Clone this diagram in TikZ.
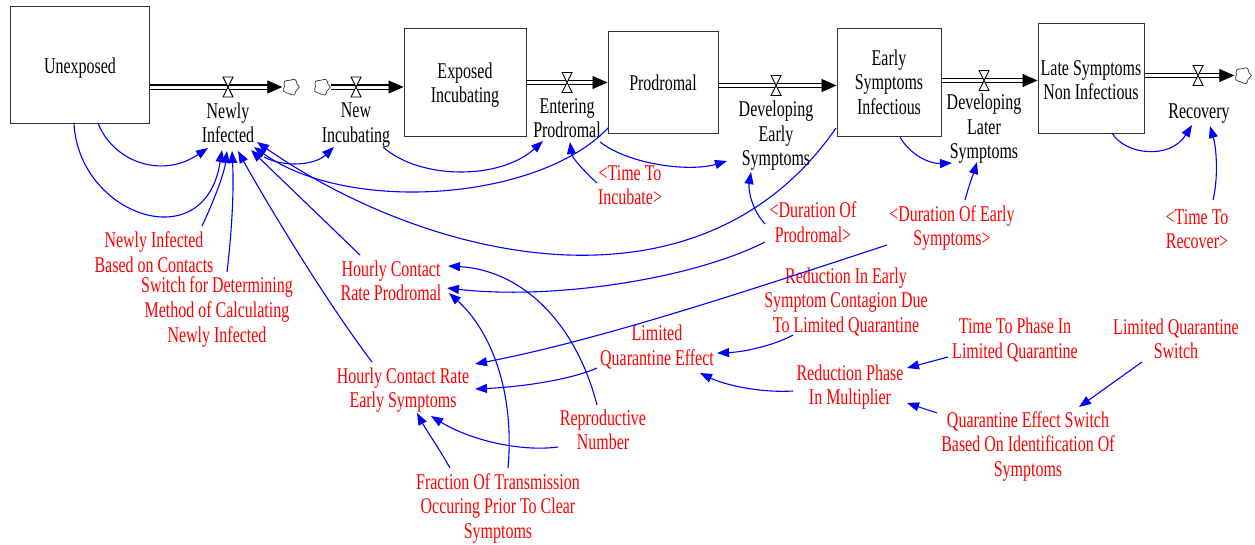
\documentclass[tikz,border=0pt]{standalone}
\usepackage{fontspec}
\setmainfont{Liberation Serif}[FakeStretch=0.71]
\usetikzlibrary{arrows.meta,calc}

\tikzset{
  stock/.style={draw=black!80, line width=1pt, align=center, inner sep=2pt},
  stocklbl/.style={align=center, inner sep=0pt},
  flowlbl/.style={align=center, inner sep=0pt, text=black},
  aux/.style={align=center, inner sep=0pt, text=red},
  pipe/.style={draw=black, line width=1.2pt, double=white, double distance=3pt, shorten >=14pt},
  pipetip/.style={draw=black, line width=0.6pt, -{Triangle[length=15pt,width=13pt]}},
  sink/.style={minimum width=17pt, minimum height=17pt, inner sep=0pt},
  link/.style={draw=blue, line width=1.1pt, -{Triangle[length=12pt,width=9pt]}},
  valve/.pic={\draw[draw=black, fill=white, line width=0.9pt]
               (-5,-10) -- (5,-10) -- (-5,10) -- (5,10) -- cycle;},
  puff/.pic={\draw[draw=black!80, line width=0.7pt, fill=white]
               plot[smooth cycle, tension=0.8] coordinates {(0:8.3) (35:6.3) (70:8.5) (110:6.8)
               (150:8.4) (185:6.6) (220:8.5) (260:6.8) (300:8.5) (335:6.6)};}
}

% double-line material flow with a solid head at its end
\newcommand\flowpipe[2]{%
  \draw[pipe] (#1) -- (#2);
  \draw[pipetip] ($(#2)!15pt!(#1)$) -- (#2);}

\begin{document}
\begin{tikzpicture}[x=1pt, y=-1pt, font=\fontsize{22.5}{24.5}\selectfont]
\useasboundingbox (0,0) rectangle (1255,544);

% ---------- stocks ----------
\node[stock, minimum width=139pt, minimum height=117pt,
      label={[stocklbl, yshift=-4pt]center:Unexposed}] (U) at (80,64.5) {};
\node[stock, minimum width=122pt, minimum height=108pt,
      label={[stocklbl, yshift=-3pt]center:{Exposed\\Incubating}}] (EI) at (465,82) {};
\node[stock, minimum width=110pt, minimum height=102pt] (PR) at (663,82.5) {Prodromal};
\node[stock, minimum width=104pt, minimum height=108pt] (ES) at (889,82)   {Early\\Symptoms\\Infectious};
\node[stock, minimum width=106pt, minimum height=110pt,
      label={[stocklbl, yshift=-2pt]center:{Late Symptoms\\Non Infectious}}] (LS) at (1091,78) {};

% ---------- sources and sinks ----------
\node[sink] (c1) at (291,87) {};
\node[sink] (c2) at (322,87) {};
\node[sink] (c3) at (1243,75.5) {};

% ---------- valve positions ----------
\coordinate (v1) at (228,87);
\coordinate (v2) at (356,87);
\coordinate (v3) at (567,82.5);
\coordinate (v4) at (776,85.5);
\coordinate (v5) at (984,80.5);
\coordinate (v6) at (1198,75.5);

% ---------- flows ----------
\flowpipe{U.east |- v1}{c1.west}
\flowpipe{c2.east}{EI.west |- v2}
\flowpipe{EI.east |- v3}{PR.west |- v3}
\flowpipe{PR.east |- v4}{ES.west |- v4}
\flowpipe{ES.east |- v5}{LS.west |- v5}
\flowpipe{LS.east |- v6}{c3.west}
\foreach \v in {v1,v2,v3,v4,v5,v6} \pic at (\v) {valve};
\foreach \c in {c1,c2,c3} \pic at (\c) {puff};

% ---------- flow names ----------
\node[flowlbl] (NI)  at (228,123)  {Newly\\Infected};
\node[flowlbl] (NIc) at (356,125)  {New\\Incubating};
\node[flowlbl] (EP)  at (567,118)  {Entering\\Prodromal};
\node[flowlbl] (DE)  at (776,136)  {Developing\\Early\\Symptoms};
\node[flowlbl] (DL)  at (984,129)  {Developing\\Later\\Symptoms};
\node[flowlbl] (RC)  at (1199,114) {Recovery};

% ---------- auxiliaries ----------
\node[aux] (NIBC) at (154,252) {Newly Infected\\Based on Contacts};
\node[aux] (SW)   at (217,312) {Switch for Determining\\Method of Calculating\\Newly Infected};
\node[aux] (HCRP) at (391,281) {Hourly Contact\\Rate Prodromal};
\node[aux] (HCRE) at (403,390) {Hourly Contact Rate\\Early Symptoms};
\node[aux] (RN)   at (603,430) {Reproductive\\Number};
\node[aux] (FT)   at (498,508) {Fraction Of Transmission\\Occuring Prior To Clear\\Symptoms};
\node[aux] (LQE)  at (657,347) {Limited\\Quarantine Effect};
\node[aux] (TTI)  at (630,185) {<Time To\\Incubate>};
\node[aux] (DOP)  at (813,222) {<Duration Of\\Prodromal>};
\node[aux] (DOE)  at (952,228) {<Duration Of Early\\Symptoms>};
\node[aux] (TTR)  at (1197,229) {<Time To\\Recover>};
\node[aux] (RIE)  at (846,302) {Reduction In Early\\Symptom Contagion Due\\To Limited Quarantine};
\node[aux] (TTP)  at (1015,340) {Time To Phase In\\Limited Quarantine};
\node[aux] (LQS)  at (1176,339) {Limited Quarantine\\Switch};
\node[aux] (RPM)  at (850,387) {Reduction Phase\\In Multiplier};
\node[aux] (QES)  at (1028,446) {Quarantine Effect Switch\\Based On Identification Of\\Symptoms};

% ---------- causal links ----------
% into Newly Infected
\draw[link] ($(U)+(18,58.5)$) .. controls (112,160) and (160,180) .. ($(NI)+(-20,25)$);
\draw[link] ($(U)+(-6,58.5)$) .. controls (78,215) and (205,260) .. ($(NI)+(-6,27)$);
\draw[link] ($(NIBC)+(48,-26)$) .. controls (212,205) and (224,175) .. ($(NI)+(-1,28)$);
\draw[link] ($(SW)+(10,-40)$) .. controls (232,230) and (234,190) .. ($(NI)+(4,28)$);
\draw[link] ($(HCRE)+(-31,-28)$) .. controls (325,300) and (265,200) .. ($(NI)+(10,28)$);
\draw[link] ($(HCRP)+(-31,-26)$) -- ($(NI)+(23,27)$);
\draw[link] ($(PR)+(-55,45.5)$) .. controls (540,200) and (350,215) .. ($(NI)+(26,24)$);
\draw[link] ($(ES)+(-53,46)$) .. controls (700,325) and (430,262) .. ($(NI)+(29,19)$);

% along the chain of flows
\draw[link] ($(NI)+(36,34)$) .. controls (285,168) and (315,165) .. ($(NIc)+(-22,22)$);
\draw[link] ($(NIc)+(27,22)$) .. controls (420,180) and (500,180) .. ($(EP)+(-24,23)$);
\draw[link] ($(TTI)+(-33,-2)$) .. controls (585,172) and (572,158) .. ($(EP)+(3,24)$);
\draw[link] ($(PR)+(-63,59.5)$) .. controls (630,165) and (690,172) .. ($(DE)+(-49,25)$);
\draw[link] ($(DOP)+(-48,2)$) .. controls (752,210) and (748,190) .. ($(DE)+(-25,36)$);
\draw[link] ($(ES)+(11,55)$) .. controls (910,155) and (930,164) .. ($(DL)+(-32,34)$);
\draw[link] ($(DOE)+(13,-28)$) .. controls (969,185) and (974,172) .. ($(DL)+(-7,33)$);
\draw[link] ($(LS)+(21,55)$) .. controls (1125,155) and (1170,160) .. ($(RC)+(-7,11)$);
\draw[link] ($(TTR)+(16,-29)$) .. controls (1218,180) and (1217,150) .. ($(RC)+(11,12)$);

% contact rates
\draw[link] ($(DOP)+(-48,20)$) .. controls (690,280) and (550,300) .. ($(HCRP)+(56,7)$);
\draw[link] ($(RN)+(-6,-25)$) .. controls (575,320) and (520,270) .. ($(HCRP)+(57,-15)$);
\draw[link] ($(FT)+(10,-40)$) .. controls (515,390) and (490,330) .. ($(HCRP)+(58,12)$);
\draw[link] ($(RN)+(-45,17)$) .. controls (520,452) and (470,440) .. ($(HCRE)+(28,26)$);
\draw[link] ($(FT)+(-48,-40)$) .. controls (440,450) and (425,428) .. ($(HCRE)+(14,23)$);
\draw[link] ($(LQE)+(-60,21)$) .. controls (570,380) and (520,387) .. ($(HCRE)+(72,-1)$);
\draw[link] ($(DOE)+(-65,17)$) .. controls (750,290) and (600,340) .. ($(HCRE)+(72,-26)$);

% quarantine
\draw[link] ($(RIE)+(-53,33)$) .. controls (775,345) and (745,352) .. ($(LQE)+(60,6)$);
\draw[link] ($(RPM)+(-57,4)$) .. controls (760,393) and (725,385) .. ($(LQE)+(43,26)$);
\draw[link] ($(TTP)+(-67,17)$) -- ($(RPM)+(57,-19)$);
\draw[link] ($(QES)+(-91,-33)$) -- ($(RPM)+(57,16)$);
\draw[link] ($(LQS)+(-34,23)$) -- ($(QES)+(51,-39)$);
\end{tikzpicture}
\end{document}
